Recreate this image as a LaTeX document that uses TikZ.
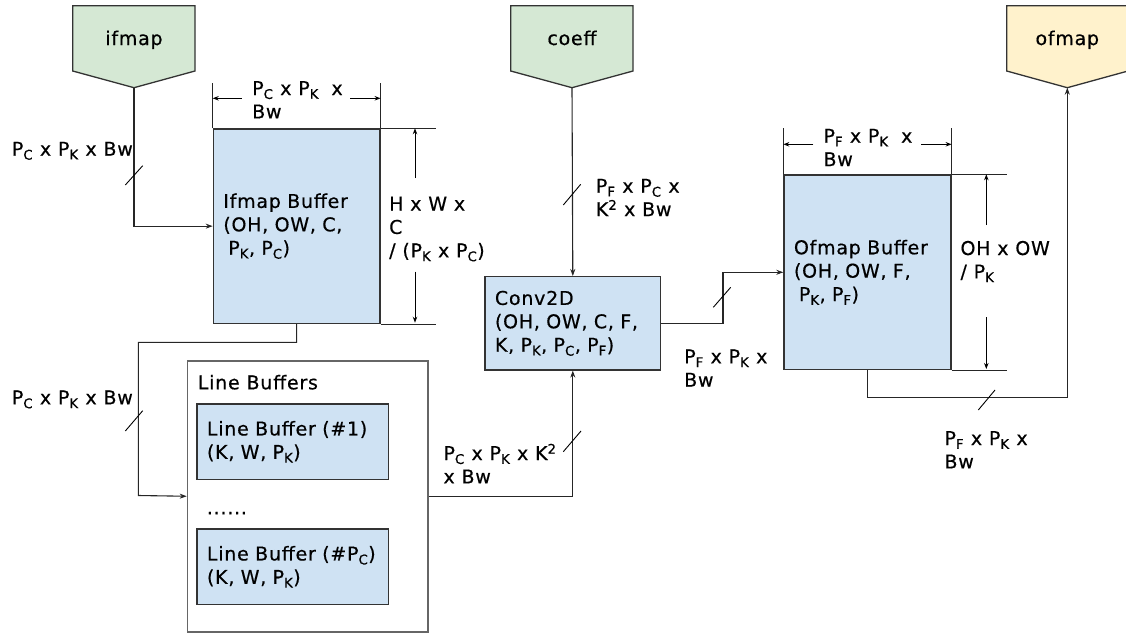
\documentclass[tikz,border=0pt]{standalone}
\usepackage{fontspec}
\setmainfont[LetterSpace=4,FakeBold=0.5]{DejaVu Sans}
\usetikzlibrary{arrows.meta,calc}
\newcommand\sbs[1]{\textsubscript{#1}}
\newcommand\sps[1]{\textsuperscript{#1}}
\definecolor{inGreen}{HTML}{D5E8D4}
\definecolor{outYellow}{HTML}{FFF2CC}
\definecolor{bufBlue}{HTML}{CFE2F3}
\definecolor{edge}{HTML}{333333}
\definecolor{frameGray}{HTML}{666666}

\begin{document}
\begin{tikzpicture}[x=1pt,y=-1pt,
  every node/.style={font=\fontsize{19}{23.4}\selectfont, inner sep=0pt},
  wire/.style={line width=1.1pt, draw=black!85},
  arr/.style={wire, -{Stealth[length=7pt,width=5pt]}},
  tick/.style={line width=0.9pt},
  dim/.style={line width=1pt, -{Stealth[length=6pt,width=4.5pt]}},
  ext/.style={line width=1pt, draw=black!85},
  buf/.style={draw=edge, line width=1.3pt, fill=bufBlue, align=left,
    inner xsep=10pt, inner ysep=0pt, anchor=north west},
  lbl/.style={anchor=base west, align=left},
  port/.style={draw=edge, line width=1.3pt}
]
\useasboundingbox (0,0) rectangle (1126,632);

% ---- input / output ports ----
\path[port, fill=inGreen] (72.7,5.7) -- (195,5.7) -- (195,71) -- (134,87.7) -- (72.7,71) -- cycle;
\node[anchor=base] (ifmap) at (134,45) {ifmap};
\coordinate (ifmapTip) at (134,87.7);

\path[port, fill=inGreen] (510.7,5.7) -- (633,5.7) -- (633,71) -- (572,87.7) -- (510.7,71) -- cycle;
\node[anchor=base] (coeff) at (572,45) {coeff};
\coordinate (coeffTip) at (572,87.7);

\path[port, fill=outYellow] (1006.7,5.7) -- (1128,5.7) -- (1128,71) -- (1067.3,87.7) -- (1006.7,71) -- cycle;
\node[anchor=base] (ofmap) at (1067.3,45) {ofmap};
\coordinate (ofmapTip) at (1067.3,87.7);

% ---- buffers and compute ----
\node[buf, text width=146.6pt, minimum height=194.4pt] (ifbuf) at (212.7,128.3)
  {Ifmap Buffer\\(OH, OW, C,\\\hspace*{5pt}P\sbs{K}, P\sbs{C})};

\node[buf, text width=155.7pt, minimum height=93.3pt] (conv) at (484.3,276)
  {Conv2D\\(OH, OW, C, F,\\K, P\sbs{K}, P\sbs{C}, P\sbs{F})};

\node[buf, text width=147pt, minimum height=194.7pt] (ofbuf) at (783.3,174.3)
  {Ofmap Buffer\\(OH, OW, F,\\\hspace*{5pt}P\sbs{K}, P\sbs{F})};

\node[draw=frameGray, line width=1.5pt, anchor=north west,
  minimum width=240.6pt, minimum height=271pt] (lbs) at (186.7,360) {};
\node[lbl] (lbsTitle) at (197.7,389.3) {Line Buffers};
\node[buf, text width=171.4pt, minimum height=75.7pt] (lb1) at (196.3,403.3)
  {Line Buffer (\#1)\\(K, W, P\sbs{K})};
\node[lbl] (dots) at (206.7,514.3) {......};
\node[buf, text width=171.4pt, minimum height=75.7pt] (lb2) at (196.3,528.3)
  {Line Buffer (\#P\sbs{C})\\(K, W, P\sbs{K})};

% ---- dimension marks ----
\draw[ext] (ifbuf.north west) -- ++(0,-45.6);
\draw[ext] (ifbuf.north east) -- ++(0,-45.6);
\draw[dim] (241.7,98.3) -- (ifbuf.north west |- 0,98.3);
\draw[dim] (350,98.3) -- (ifbuf.north east |- 0,98.3);
\draw[ext] (ifbuf.north east) -- ++(55.7,0);
\draw[ext] (ifbuf.south east) -- ++(55.7,0);
\draw[dim] (415,178) -- (415,128.3);
\draw[dim] (415,271.7) -- (415,322.7);

\draw[ext] (ofbuf.north west) -- ++(0,-46);
\draw[ext] (ofbuf.north east) -- ++(0,-46);
\draw[dim] (813.3,144.3) -- (ofbuf.north west |- 0,144.3);
\draw[dim] (921,144.3) -- (ofbuf.north east |- 0,144.3);
\draw[ext] (ofbuf.north east) -- ++(55.4,0);
\draw[ext] (ofbuf.south east) -- ++(55.4,0);
\draw[dim] (986.3,225) -- (986.3,174.3);
\draw[dim] (986.3,317) -- (986.3,369);

% ---- data paths ----
\coordinate (lbIn) at (138.3,495.5);
\draw[arr] (ifmapTip) |- (ifbuf.west);
\draw[arr] (coeffTip) -- (conv.north);
\draw[arr] (conv.east) -- ++(61.7,0) |- (ofbuf.west);
\draw[arr] (ofbuf.south) -- ++(0,27) -| (ofmapTip);
\draw[arr] (ifbuf.south) -- ++(0,18.3) -| (lbIn) -- (lbs.west);
\draw[arr] (lbs.east) -| (conv.south);

% ---- bus-width ticks ----
\draw[tick] (125.3,185) -- (142.7,165.7);
\draw[tick] (563.3,205) -- (580.7,184.3);
\draw[tick] (713.3,307.3) -- (730.7,287.3);
\draw[tick] (978.3,410) -- (995,390);
\draw[tick] (125.3,431) -- (142.7,410.7);
\draw[tick] (563.3,451.7) -- (581,431);

% ---- labels (anchored at the last line's baseline) ----
\node[lbl] (wIf) at (11.7,155.7) {P\sbs{C} x P\sbs{K} x Bw};
\node[lbl] (wLbIn) at (11.7,404.3) {P\sbs{C} x P\sbs{K} x Bw};
\node[lbl] (dIfW) at (252,118.4) {P\sbs{C} x P\sbs{K}\hspace{0.3em} x\\Bw};
\node[lbl] (dIfH) at (389,257.3) {H x W x\\C\\/ (P\sbs{K} x P\sbs{C})};
\node[lbl] (wCoeff) at (595.7,216.1) {P\sbs{F} x P\sbs{C} x\\K\sps{2} x Bw};
\node[lbl] (wConv) at (684,386.7) {P\sbs{F} x P\sbs{K} x\\Bw};
\node[lbl] (wLbOut) at (443.3,483.4) {P\sbs{C} x P\sbs{K} x K\sps{2}\\x Bw};
\node[lbl] (dOfW) at (823.3,166.1) {P\sbs{F} x P\sbs{K}\hspace{0.3em} x\\Bw};
\node[lbl] (dOfH) at (960.3,278.4) {OH x OW\\/ P\sbs{K}};
\node[lbl] (wOf) at (944.3,468.4) {P\sbs{F} x P\sbs{K} x\\Bw};

\end{tikzpicture}
\end{document}
